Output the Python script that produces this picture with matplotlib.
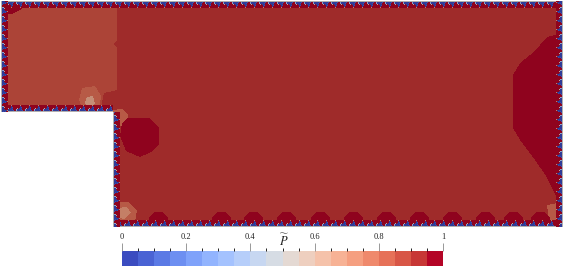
import numpy as np
import matplotlib
matplotlib.use('Agg')
import matplotlib.pyplot as plt
from matplotlib.path import Path
from matplotlib.colors import ListedColormap, BoundaryNorm
from matplotlib.cm import ScalarMappable

plt.rcParams['font.family'] = 'Liberation Serif'
plt.rcParams['mathtext.fontset'] = 'stix'

W, H = 565, 266

# --- data (pixel space of the rendered domain, y pointing down) ---
domain = [(1, 1), (563, 1), (563, 227), (113, 227), (113, 112), (1, 112)]
base_value = 0.925

left_block = [(1, 1), (117, 1), (117, 40), (114, 44), (117, 48), (117, 90),
              (104, 93), (100, 112), (1, 112)]
corner_patch = [(1, 1), (24, 1), (22, 9), (12, 14), (1, 14)]
left_spot = [(82, 88), (95, 86), (101, 96), (99, 112), (84, 112), (79, 100)]
left_spot_core = [(87, 97), (93, 96), (95, 104), (89, 108), (85, 103)]
step_spot = [(113, 110), (122, 109), (128, 115), (126, 126), (113, 127)]
step_blob = [(128, 118), (150, 118), (159, 128), (159, 145), (151, 152),
             (140, 157), (126, 151), (120, 136), (122, 123)]
right_blob = [(563, 33), (547, 37), (540, 45), (530, 55), (520, 63), (513, 75),
              (513, 128), (520, 140), (535, 160), (546, 176), (556, 196), (563, 196)]
bottom_spot = [(113, 203), (128, 202), (137, 210), (135, 222), (113, 224)]
bottom_spot_core = [(118, 208), (127, 207), (131, 213), (124, 219), (116, 217)]
corner_spot = [(547, 205), (558, 203), (563, 208), (563, 222), (549, 221)]

regions = [
    (left_block, 0.875), (corner_patch, 0.975), (left_spot, 0.825),
    (left_spot_core, 0.675), (step_spot, 0.825), (step_blob, 0.975),
    (right_blob, 0.975), (bottom_spot, 0.825), (bottom_spot_core, 0.725),
    (corner_spot, 0.825),
]

bump_centers = [158, 221, 253, 286, 320, 353, 386, 419, 452, 485, 513, 540]
bump_width = 22
bump_height = 15

# boundary texture, outermost row first
edge_tile = [
    [0.525, 0.475, 0.525, 0.475, 0.525, 0.475, 0.525, 0.475, 0.525],
    [0.025, 0.025, 0.025, 0.025, 0.075, 0.975, 0.975, 0.325, 0.025],
    [0.025, 0.025, 0.025, 0.075, 0.975, 0.975, 0.975, 0.425, 0.025],
    [0.975, 0.025, 0.025, 0.025, 0.975, 0.975, 0.975, 0.975, 0.525],
    [0.975, 0.975, 0.025, 0.075, 0.975, 0.975, 0.975, 0.975, 0.975],
    [0.975, 0.975, 0.025, 0.975, 0.975, 0.975, 0.975, 0.975, 0.975],
    [0.975, 0.975, 0.725, 0.975, 0.975, 0.975, 0.975, 0.975, 0.975],
]

n_bins = 20
shade = 0.8
tick_values = [0, 0.2, 0.4, 0.6, 0.8, 1]
tick_labels = ['0', '0.2', '0.4', '0.6', '0.8', '1']

# --- build field ---
yy, xx = np.mgrid[0:H, 0:W]
pts = np.column_stack([xx.ravel() + 0.5, yy.ravel() + 0.5])


def inside(poly):
    return Path(poly).contains_points(pts).reshape(H, W)


mask = inside(domain)
field = np.full((H, W), np.nan)
field[mask] = base_value
for poly, val in regions:
    field[inside(poly) & mask] = val

for c in bump_centers:
    h = bump_width / 2
    bump = [(c - h, 228), (c - h + 2, 218), (c - 3, 227 - bump_height),
            (c + 4, 227 - bump_height), (c + h - 1, 218), (c + h + 1, 228)]
    field[inside(bump) & mask] = 0.975

tile = np.array(edge_tile)
depth, period = tile.shape
# (fixed coord, start, end, axis, inward direction)
edges = [(1, 1, 563, 'h', 1), (227, 113, 563, 'h', -1), (112, 1, 113, 'h', -1),
         (1, 1, 112, 'v', 1), (113, 112, 227, 'v', 1), (563, 1, 227, 'v', -1)]
for fixed, a, b, kind, d in edges:
    pos = np.arange(a, b)
    for k in range(depth):
        vals = tile[k][pos % period]
        line = fixed + d * k - (1 if d < 0 else 0)
        if kind == 'h':
            sel = mask[line, pos]
            field[line, pos[sel]] = vals[sel]
        else:
            sel = mask[pos, line]
            field[pos[sel], line] = vals[sel]

# --- colours ---
base_colors = plt.get_cmap('coolwarm', n_bins)(np.linspace(0.5 / n_bins, 1 - 0.5 / n_bins, n_bins))
bar_cmap = ListedColormap(base_colors)
lit = base_colors.copy()
lit[:, :3] *= shade
field_cmap = ListedColormap(lit)
field_cmap.set_bad('white')
norm = BoundaryNorm(np.linspace(0, 1, n_bins + 1), n_bins)

fig = plt.figure(figsize=(W / 100, H / 100), dpi=100)
ax = fig.add_axes([0, 0, 1, 1])
ax.imshow(np.ma.masked_invalid(field), cmap=field_cmap, norm=norm,
          extent=(0, W, H, 0), interpolation='nearest')
ax.set_xlim(0, W)
ax.set_ylim(H, 0)
ax.axis('off')

cax = fig.add_axes([122 / W, 0.0, 321 / W, 15 / H])
cb = fig.colorbar(ScalarMappable(norm=norm, cmap=bar_cmap), cax=cax,
                  orientation='horizontal', ticks=tick_values)
cb.outline.set_visible(False)
cax.xaxis.set_ticks_position('top')
cax.set_xticklabels(tick_labels)
cax.tick_params(axis='x', length=6, width=0.6, color='#888888', labelsize=6,
                pad=1, labelcolor='#222222')
fig.text(284 / W, 1 - 241 / H, r'$\widetilde{P}$', ha='center', va='center',
         fontsize=9, color='#222222')

fig.savefig('out.png', dpi=100, facecolor='white')
